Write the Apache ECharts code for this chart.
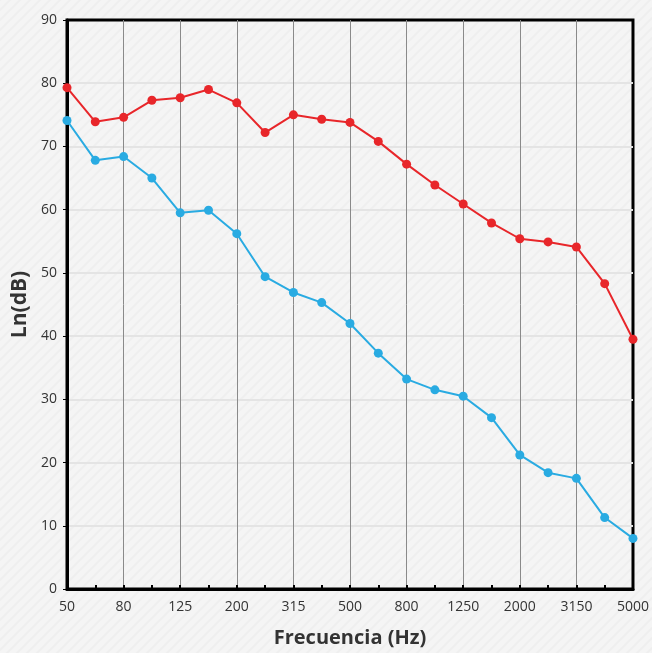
<!DOCTYPE html>
<html>
<head>
<meta charset="UTF-8">
<title>Ln(dB)</title>
<script src="https://cdn.jsdelivr.net/npm/echarts@6/dist/echarts.min.js"></script>
<style>
html,body{margin:0;padding:0;background:#f4f4f4;}
#chart{width:652px;height:653px;}
</style>
</head>
<body>
<div id="chart"></div>
<script>
// frecuencias (Hz) en tercios de octava
var frecuencias = ['50','63','80','100','125','160','200','250','315','400','500','630','800','1000','1250','1600','2000','2500','3150','4000','5000'];
// serie roja
var serieRoja = [79.3,73.9,74.6,77.3,77.7,79.0,76.9,72.2,75.0,74.3,73.8,70.8,67.2,63.9,60.9,57.9,55.4,54.9,54.1,48.3,39.5];
// serie azul
var serieAzul = [74.1,67.8,68.4,65.0,59.5,59.9,56.2,49.4,46.9,45.3,42.0,37.3,33.2,31.5,30.5,27.1,21.2,18.4,17.5,11.3,8.0];

// fondo rayado
function patron(){
    var c = document.createElement('canvas');
    c.width = 10; c.height = 10;
    var ctx = c.getContext('2d');
    ctx.fillStyle = '#f5f5f5';
    ctx.fillRect(0,0,10,10);
    ctx.strokeStyle = '#efefef';
    ctx.lineWidth = 2;
    ctx.beginPath();
    ctx.moveTo(0,10); ctx.lineTo(10,0);
    ctx.moveTo(-5,5); ctx.lineTo(5,-5);
    ctx.moveTo(5,15); ctx.lineTo(15,5);
    ctx.stroke();
    return c;
}

var myChart = echarts.init(document.getElementById('chart'));
var fuente = '"Open Sans", "Noto Sans", sans-serif';

option = {
    backgroundColor: {image: patron(), repeat: 'repeat'},
    animation: false,
    grid: {
        left: 67, right: 18, top: 20, bottom: 62,
        show: true,
        borderColor: '#000',
        borderWidth: 3,
        backgroundColor: 'transparent'
    },
    xAxis: {
        type: 'category',
        boundaryGap: false,
        data: frecuencias,
        name: 'Frecuencia (Hz)',
        nameLocation: 'middle',
        nameGap: 39,
        nameTextStyle: {fontFamily: fuente, fontSize: 20, fontWeight: 'bold', color: '#333'},
        axisLine: {lineStyle: {color: '#000', width: 3}},
        axisTick: {show: true, inside: true, interval: 0, length: 4, lineStyle: {color: '#000', width: 2}},
        axisLabel: {interval: 1, fontFamily: fuente, fontSize: 14, color: '#333', margin: 11},
        splitLine: {
            show: true,
            interval: function(i){ return i % 2 === 0 && i !== 0 && i !== 20; },
            lineStyle: {color: '#8a8a8a', width: 1}
        }
    },
    yAxis: {
        type: 'value',
        min: 0, max: 90, interval: 10,
        name: 'Ln(dB)',
        nameLocation: 'middle',
        nameGap: 36,
        nameTextStyle: {fontFamily: fuente, fontSize: 21, fontWeight: 'bold', color: '#333'},
        axisLine: {show: true, lineStyle: {color: '#000', width: 3}},
        axisTick: {show: true, length: 4, lineStyle: {color: '#000', width: 1}},
        axisLabel: {fontFamily: fuente, fontSize: 14, color: '#333', margin: 10},
        splitLine: {show: true, showMaxLine: false, lineStyle: {color: '#e4e4e4', width: 2}}
    },
    series: [
        {
            type: 'line',
            data: serieRoja,
            symbol: 'circle',
            symbolSize: 9,
            itemStyle: {color: '#e8262a'},
            lineStyle: {color: '#e8262a', width: 2},
            z: 3
        },
        {
            type: 'line',
            data: serieAzul,
            symbol: 'circle',
            symbolSize: 9,
            itemStyle: {color: '#29abe2'},
            lineStyle: {color: '#29abe2', width: 2},
            z: 3
        }
    ]
};

myChart.setOption(option);
</script>
</body>
</html>
